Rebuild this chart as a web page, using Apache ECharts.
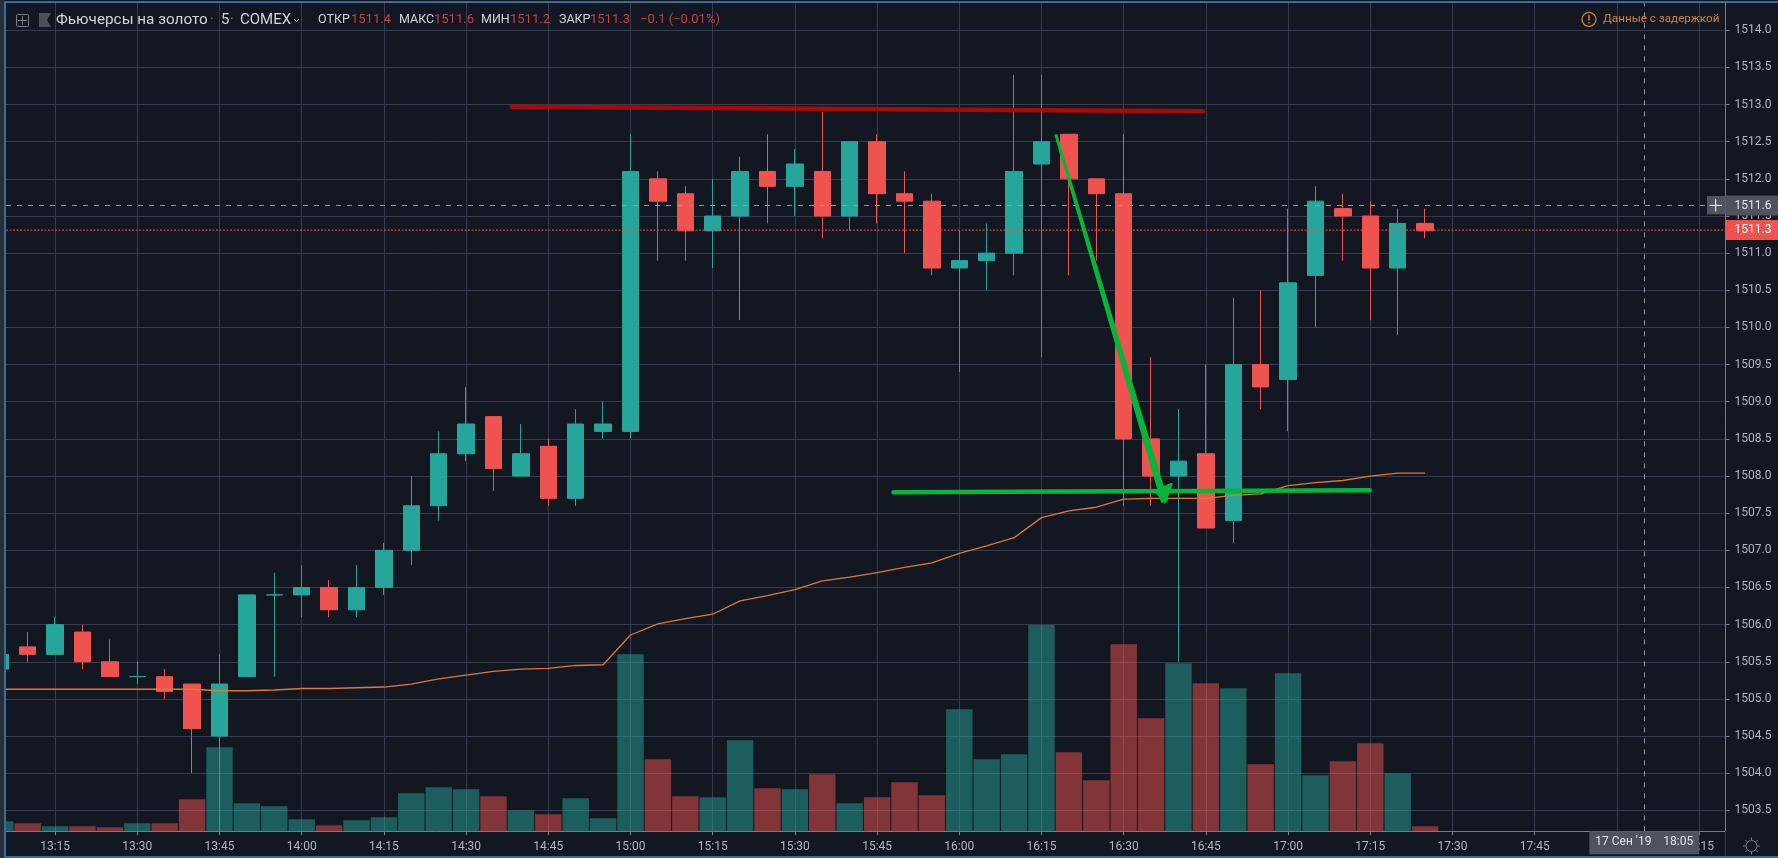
<!DOCTYPE html>
<html><head><meta charset="utf-8">
<style>html,body{margin:0;padding:0;background:#131722;overflow:hidden}#c{width:1778px;height:858px}</style>
<script src="https://cdn.jsdelivr.net/npm/echarts@6/dist/echarts.min.js"></script>
</head><body><div id="c"></div>
<script>
// Time of each five-minute bar
const times = ['13:05','13:10','13:15','13:20','13:25','13:30','13:35','13:40','13:45','13:50','13:55','14:00','14:05','14:10','14:15','14:20','14:25','14:30','14:35','14:40','14:45','14:50','14:55','15:00','15:05','15:10','15:15','15:20','15:25','15:30','15:35','15:40','15:45','15:50','15:55','16:00','16:05','16:10','16:15','16:20','16:25','16:30','16:35','16:40','16:45','16:50','16:55','17:00','17:05','17:10','17:15','17:20','17:25'];
const opens  = [1505.4,1505.7,1505.6,1505.9,1505.5,1505.3,1505.3,1505.2,1504.5,1505.3,1506.4,1506.4,1506.5,1506.2,1506.5,1507.0,1507.6,1508.3,1508.8,1508.0,1508.4,1507.7,1508.6,1508.6,1512.0,1511.8,1511.3,1511.5,1512.1,1511.9,1512.1,1511.5,1512.5,1511.8,1511.7,1510.8,1510.9,1511.0,1512.2,1512.6,1512.0,1511.8,1508.5,1508.0,1508.3,1507.4,1509.5,1509.3,1510.7,1511.6,1511.5,1510.8,1511.4];
const closes = [1505.6,1505.6,1506.0,1505.5,1505.3,1505.3,1505.1,1504.6,1505.2,1506.4,1506.4,1506.5,1506.2,1506.5,1507.0,1507.6,1508.3,1508.7,1508.1,1508.3,1507.7,1508.7,1508.7,1512.1,1511.7,1511.3,1511.5,1512.1,1511.9,1512.2,1511.5,1512.5,1511.8,1511.7,1510.8,1510.9,1511.0,1512.1,1512.5,1512.0,1511.8,1508.5,1508.0,1508.2,1507.3,1509.5,1509.2,1510.6,1511.7,1511.5,1510.8,1511.4,1511.3];
const lows   = [1505.4,1505.5,1505.6,1505.4,1505.3,1505.2,1505.0,1504.0,1503.2,1505.3,1505.3,1506.1,1506.1,1506.1,1506.4,1506.8,1507.4,1508.2,1507.8,1508.0,1507.6,1507.6,1508.5,1508.5,1510.9,1510.9,1510.8,1510.1,1511.4,1511.5,1511.2,1511.3,1511.4,1511.0,1510.7,1509.4,1510.5,1510.7,1509.6,1510.7,1510.9,1507.6,1507.6,1505.5,1507.3,1507.1,1508.9,1508.6,1510.0,1510.9,1510.1,1509.9,1511.2];
const highs  = [1505.6,1505.9,1506.1,1506.0,1505.8,1505.5,1505.4,1505.2,1505.6,1506.4,1506.7,1506.8,1506.6,1506.8,1507.1,1508.0,1508.6,1509.2,1508.8,1508.7,1508.5,1508.9,1509.0,1512.6,1512.1,1511.9,1512.0,1512.3,1512.6,1512.4,1512.9,1512.5,1512.6,1512.1,1511.8,1511.3,1511.4,1513.4,1513.4,1512.6,1512.0,1512.6,1509.6,1508.9,1509.5,1510.4,1510.5,1511.6,1511.9,1511.8,1511.7,1511.6,1511.6];
const volumes = [30,24,15,15,12,24,24,96,252,84,75,36,18,33,42,114,132,126,105,63,51,99,39,531,216,105,102,273,129,126,171,84,102,147,108,366,216,231,619,237,153,561,339,504,444,429,201,474,168,210,264,174,15];
const vwap = [1505.13,1505.13,1505.13,1505.13,1505.13,1505.13,1505.13,1505.13,1505.11,1505.11,1505.12,1505.14,1505.14,1505.15,1505.16,1505.20,1505.27,1505.32,1505.37,1505.40,1505.41,1505.45,1505.46,1505.86,1506.01,1506.08,1506.14,1506.32,1506.39,1506.47,1506.59,1506.64,1506.70,1506.77,1506.83,1506.96,1507.06,1507.17,1507.44,1507.53,1507.58,1507.69,1507.70,1507.70,1507.70,1507.74,1507.76,1507.87,1507.91,1507.94,1508.00,1508.04,1508.04];
// Tick labels
const xTickLabels = ['13:15','13:30','13:45','14:00','14:15','14:30','14:45','15:00','15:15','15:30','15:45','16:00','16:15','16:30','16:45','17:00','17:15','17:30','17:45','18:00','18:15'];
const yTickLabels = ['1503.5','1504.0','1504.5','1505.0','1505.5','1506.0','1506.5','1507.0','1507.5','1508.0','1508.5','1509.0','1509.5','1510.0','1510.5','1511.0','1511.5','1512.0','1512.5','1513.0','1513.5','1514.0'];
// Hand-drawn trend lines: [time, price]
const redLine = [['14:38.3',1512.97],['16:44.5',1512.91]];
const greenLevel = [['15:48',1507.78],['17:14.9',1507.81]];
const greenArrow = [['16:17.6',1512.60],['16:37.5',1507.65]];
const greenArrowHead = [['16:35.8',1507.80],['16:37.5',1507.65],['16:38.7',1507.89]];
// Crosshair and last price
const crossTime = '18:05', crossDateLabel = "17 Сен '19    18:05";
const crossPrice = 1511.64, crossPriceLabel = '1511.6';
const lastPrice = 1511.31, lastPriceLabel = '1511.3';
// Header texts
const titleParts = ['Фьючерсы на золото','5','COMEX'];
const ohlcLabels = ['ОТКР','МАКС','МИН','ЗАКР'];
const ohlcValues = ['1511.4','1511.6','1511.2','1511.3'];
const changeText = '−0.1 (−0.01%)';
const delayText = 'Данные с задержкой';

const UP='#26a69a', DOWN='#ef5350', BG='#131722', GRID='#363c4e', TXT='#b2b5be', AXIS='#787b86', ARROW='#08b43a';
const FONT='Roboto';
const X_MIN=786.04, X_MAX=1099.82;
const mins = s => { const [h,m]=s.split(':'); return (+h)*60+(+m); };
const pts = arr => arr.map(p=>[mins(p[0]),p[1]]);
const xs = times.map(mins);
const isUp = i => closes[i]>=opens[i] ;

const chart = echarts.init(document.getElementById('c'),null,{renderer:'canvas'});
const T = (x,y,text,fill,size,extra)=>({type:'text',x,y,z:50,style:Object.assign({text,fill,font:`${size||13}px ${FONT}`,textVerticalAlign:'middle'},extra||{})});
const L = (x1,y1,x2,y2,stroke,w)=>({type:'line',z:50,shape:{x1,y1,x2,y2},style:{stroke,lineWidth:w||1}});
const gear=[];
for(let i=0;i<8;i++){const a=i*Math.PI/4;gear.push(L(1751.5+Math.cos(a)*6,846+Math.sin(a)*6,1751.5+Math.cos(a)*8.5,846+Math.sin(a)*8.5,'#787b86',1));}

// Arrow: a shaft that widens toward the tip and a filled head, placed through the axes
function arrowItem(params,api){
  const a=api.coord(pts(greenArrow)[0]), b=api.coord(pts(greenArrow)[1]);
  const head=pts(greenArrowHead).map(p=>api.coord(p));
  const dx=b[0]-a[0], dy=b[1]-a[1], len=Math.hypot(dx,dy), nx=-dy/len, ny=dx/len, w0=1.5, w1=3.7;
  return {type:'group',children:[
    {type:'polygon',shape:{points:[[a[0]+nx*w0,a[1]+ny*w0],[b[0]+nx*w1,b[1]+ny*w1],[b[0]-nx*w1,b[1]-ny*w1],[a[0]-nx*w0,a[1]-ny*w0]]},style:{fill:ARROW}},
    {type:'polygon',shape:{points:head},style:{fill:ARROW,stroke:ARROW,lineWidth:2.5,lineJoin:'round'}}
  ]};
}

chart.setOption({
  backgroundColor:BG, animation:false,
  textStyle:{fontFamily:FONT},
  grid:{left:6,top:3,right:52.5,bottom:26.7,containLabel:false},
  xAxis:{type:'value',min:X_MIN,max:X_MAX,
    axisLine:{show:true,onZero:false,lineStyle:{color:AXIS}},
    axisTick:{show:true,length:4,lineStyle:{color:AXIS},customValues:xTickLabels.map(mins)},
    axisLabel:{color:TXT,fontSize:12,fontFamily:FONT,margin:10,customValues:xTickLabels.map(mins),
      formatter:v=>xTickLabels[xTickLabels.map(mins).indexOf(v)]||''},
    splitLine:{show:true,lineStyle:{color:GRID,width:1}}},
  yAxis:[
   {type:'value',position:'right',min:1503.218,max:1514.367,scale:true,
    axisLine:{show:true,onZero:false,lineStyle:{color:AXIS}},
    axisTick:{show:true,length:4,lineStyle:{color:AXIS},customValues:yTickLabels.map(Number)},
    axisLabel:{color:TXT,fontSize:12,fontFamily:FONT,margin:9,padding:[4,0,0,0],customValues:yTickLabels.map(Number),formatter:v=>v.toFixed(1)},
    splitLine:{show:true,lineStyle:{color:GRID,width:1}}},
   {type:'value',min:0,max:2485,show:false,splitLine:{show:false}}
  ],
  series:[
   {name:'Объём',type:'bar',yAxisIndex:1,barWidth:26.4,z:1,silent:true,
    data:volumes.map((v,i)=>({value:[xs[i],v],itemStyle:{color:isUp(i)?UP:DOWN,opacity:0.5}}))},
   {name:'Цена',type:'candlestick',barWidth:17,z:3,silent:true,
    encode:{x:0,y:[1,2,3,4]},
    itemStyle:{color:UP,color0:DOWN,borderColor:UP,borderColor0:DOWN,borderColorDoji:UP,borderWidth:1},
    data:xs.map((x,i)=>[x,opens[i],closes[i],lows[i],highs[i]])},
   {name:'Последняя цена',type:'line',z:4,symbol:'none',silent:true,clip:false,
    lineStyle:{color:'#f0504c',type:[2,1.5],width:1},
    endLabel:{show:true,distance:0,formatter:lastPriceLabel,backgroundColor:DOWN,color:'#fff',fontSize:12,fontFamily:FONT,padding:[5,9,3,9]},
    data:[[X_MIN,lastPrice],[X_MAX,lastPrice]]},
   {name:'VWAP',type:'line',z:4,symbol:'none',silent:true,lineStyle:{color:'#e0792a',width:1.3},
    data:xs.map((x,i)=>[x,vwap[i]]),
    markLine:{silent:true,symbol:'none',z:6,animation:false,
      data:[
       {yAxis:crossPrice,lineStyle:{color:'#9598a1',type:[5,6],width:1,opacity:1},
        label:{show:true,position:'end',distance:0,formatter:crossPriceLabel,backgroundColor:'#50535e',color:'#e0e3eb',fontSize:12,fontFamily:FONT,padding:[5,9,3,9]}},
       {xAxis:mins(crossTime),lineStyle:{color:'#9598a1',type:[5,6],width:1,opacity:1},
        label:{show:true,position:'start',distance:0,formatter:crossDateLabel,backgroundColor:'#50535e',color:'#e0e3eb',fontSize:12,fontFamily:FONT,padding:[5,6,6,6]}}
      ]}},
   {name:'Сопротивление',type:'line',z:7,symbol:'none',silent:true,lineStyle:{color:'#a80a0a',width:4.5,cap:'round'},data:pts(redLine)},
   {name:'Поддержка',type:'line',z:7,symbol:'none',silent:true,lineStyle:{color:ARROW,width:4.5,cap:'round'},data:pts(greenLevel)},
   {name:'Стрелка',type:'custom',z:7,silent:true,clip:false,renderItem:arrowItem,data:[[mins(greenArrow[1][0]),greenArrow[1][1]]],encode:{x:0,y:1}}
  ],
  graphic:[
   {type:'rect',z:60,shape:{x:0,y:0,width:4,height:858},style:{fill:'#2a2e39'}},
   {type:'rect',z:60,shape:{x:4,y:1,width:2,height:857},style:{fill:'#2f6ea3'}},
   {type:'rect',z:60,shape:{x:4,y:1,width:1774,height:2},style:{fill:'#2f6ea3'}},
   {type:'rect',z:60,shape:{x:4,y:856,width:1774,height:2},style:{fill:'#2f6ea3'}},
   {type:'rect',z:50,shape:{x:16.5,y:14.5,width:12,height:12,r:1},style:{fill:'none',stroke:'#787b86',lineWidth:1}},
   L(22.5,16,22.5,25,'#787b86'),L(18,20.5,27,20.5,'#787b86'),
   {type:'polygon',z:50,shape:{points:[[39,13],[51,13],[47,20],[51,27],[39,27]]},style:{fill:'#4c505c'}},
   T(56,20,titleParts[0],'#d1d4dc',15.3),
   T(210,20,'·','#787b86',14),T(221,20,titleParts[1],'#d1d4dc',15),T(230,20,'·','#787b86',14),T(240,20,titleParts[2],'#d1d4dc',15),
   {type:'polyline',z:50,shape:{points:[[294,19],[296.5,21.5],[299,19]]},style:{fill:'none',stroke:'#b2b5be',lineWidth:1}},
   T(318,20,ohlcLabels[0],'#d1d4dc',12.5),T(351,20,ohlcValues[0],'#c2423f',13),
   T(399,20,ohlcLabels[1],'#d1d4dc',12.5),T(434,20,ohlcValues[1],'#c2423f',13),
   T(481,20,ohlcLabels[2],'#d1d4dc',12.5),T(510,20,ohlcValues[2],'#c2423f',13),
   T(559,20,ohlcLabels[3],'#d1d4dc',12.5),T(590,20,ohlcValues[3],'#c2423f',13),
   T(640,20,changeText,'#c2423f',13),
   {type:'circle',z:50,shape:{cx:1589,cy:19.3,r:7},style:{fill:'none',stroke:'#d2803f',lineWidth:1.3}},
   L(1589,15,1589,20.5,'#d2803f',1.5),L(1589,22,1589,23.6,'#d2803f',1.5),
   T(1603,19.5,delayText,'#d2803f',11.7),
   {type:'rect',z:50,shape:{x:1707,y:196,width:18.5,height:18.4},style:{fill:'#50535e'}},
   L(1709.5,205.4,1722,205.4,'#ffffff',1),L(1715.7,199,1715.7,211.5,'#ffffff',1),
   {type:'rect',z:40,shape:{x:1726,y:832,width:52,height:24},style:{fill:BG}},
   L(1725.5,831,1725.5,856,'#363c4e',1),
   {type:'circle',z:50,shape:{cx:1751.5,cy:846,r:5.5},style:{fill:'none',stroke:'#787b86',lineWidth:1}}
  ].concat(gear)
});
</script></body></html>
